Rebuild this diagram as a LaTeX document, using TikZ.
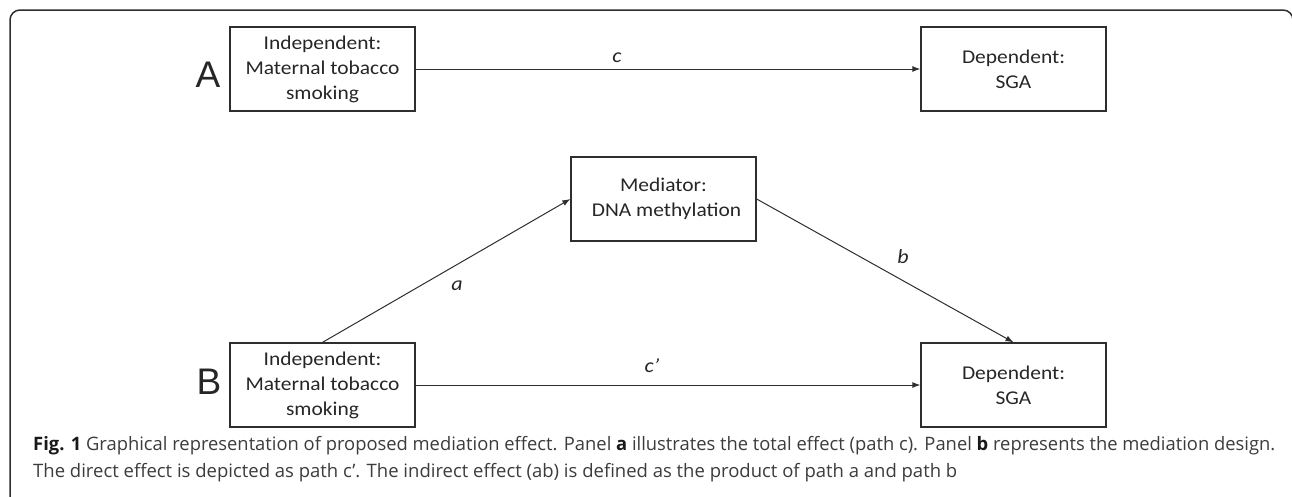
\documentclass[tikz,border=0pt]{standalone}
\usepackage{fontspec}
\usepackage{graphicx}
\setmainfont{Carlito}
\newfontfamily\boxfont[FakeStretch=1.1]{Carlito}
\newfontfamily\capfont{Open Sans}
\newfontfamily\labfont{Liberation Sans}
\usetikzlibrary{arrows.meta}
\definecolor{ln}{HTML}{2E2E2E}
\definecolor{captxt}{HTML}{3C3C3C}
\tikzset{
  varbox/.style={draw=ln, line width=1.3pt, minimum width=185pt, minimum height=84pt, align=center, font=\boxfont\fontsize{19.5}{25}\selectfont, text=black!85, inner sep=0pt},
  conn/.style={draw=ln, line width=1pt, -{Latex[length=8pt,width=6pt]}},
  pathlab/.style={font=\boxfont\fontsize{20}{24}\selectfont\itshape, text=black!85, inner sep=0pt},
  panellab/.style={font=\labfont\fontsize{37}{40}\selectfont, text=black!85, inner sep=0pt},
  capline/.style={anchor=base west, inner sep=0pt, font=\capfont\fontsize{18.5}{22}\selectfont, text=captxt}
}
\begin{document}
\begin{tikzpicture}[x=1pt,y=-1pt]
\useasboundingbox (0,0) rectangle (1292,496);
% frame
\draw[ln, line width=1.5pt, rounded corners=10pt] (10,520) -- (10,10) -- (1293,10) -- (1293,520);
% panel A
\node[panellab] (labA) at (208,75) {A};
\node[varbox] (iA) at (322.5,69) {Independent:\\Maternal tobacco\\smoking};
\node[varbox] (dA) at (1013.5,69) {Dependent:\\SGA};
\draw[conn] (iA) -- (dA);
\node[pathlab] (lc) at (617,58) {c};
% panel B
\node[panellab] (labB) at (209,382) {B};
\node[varbox] (iB) at (322.5,385) {Independent:\\Maternal tobacco\\smoking};
\node[varbox] (dB) at (1013.5,385) {Dependent:\\SGA};
\node[varbox] (med) at (663.5,199) {Mediator:\\\hspace*{6pt}DNA methylation};
\draw[conn] (iB.north) -- (med.west);
\draw[conn] (med.east) -- (dB.north);
\draw[conn] (iB) -- (dB);
\node[pathlab] (la) at (457,286) {a};
\node[pathlab] (lb) at (903,257) {b};
\node[pathlab] (lcp) at (652,366) {c’};
% caption
\node[capline] (cap1) at (33,450) {\resizebox{1242pt}{\height}{\textbf{\color{black!90}Fig. 1} Graphical representation of proposed mediation effect. Panel \textbf{\color{black!90}a} illustrates the total effect (path c). Panel \textbf{\color{black!90}b} represents the mediation design.}};
\node[capline] (cap2) at (33,477) {\resizebox{924pt}{\height}{The direct effect is depicted as path c’. The indirect effect (ab) is defined as the product of path a and path b}};
\end{tikzpicture}
\end{document}
